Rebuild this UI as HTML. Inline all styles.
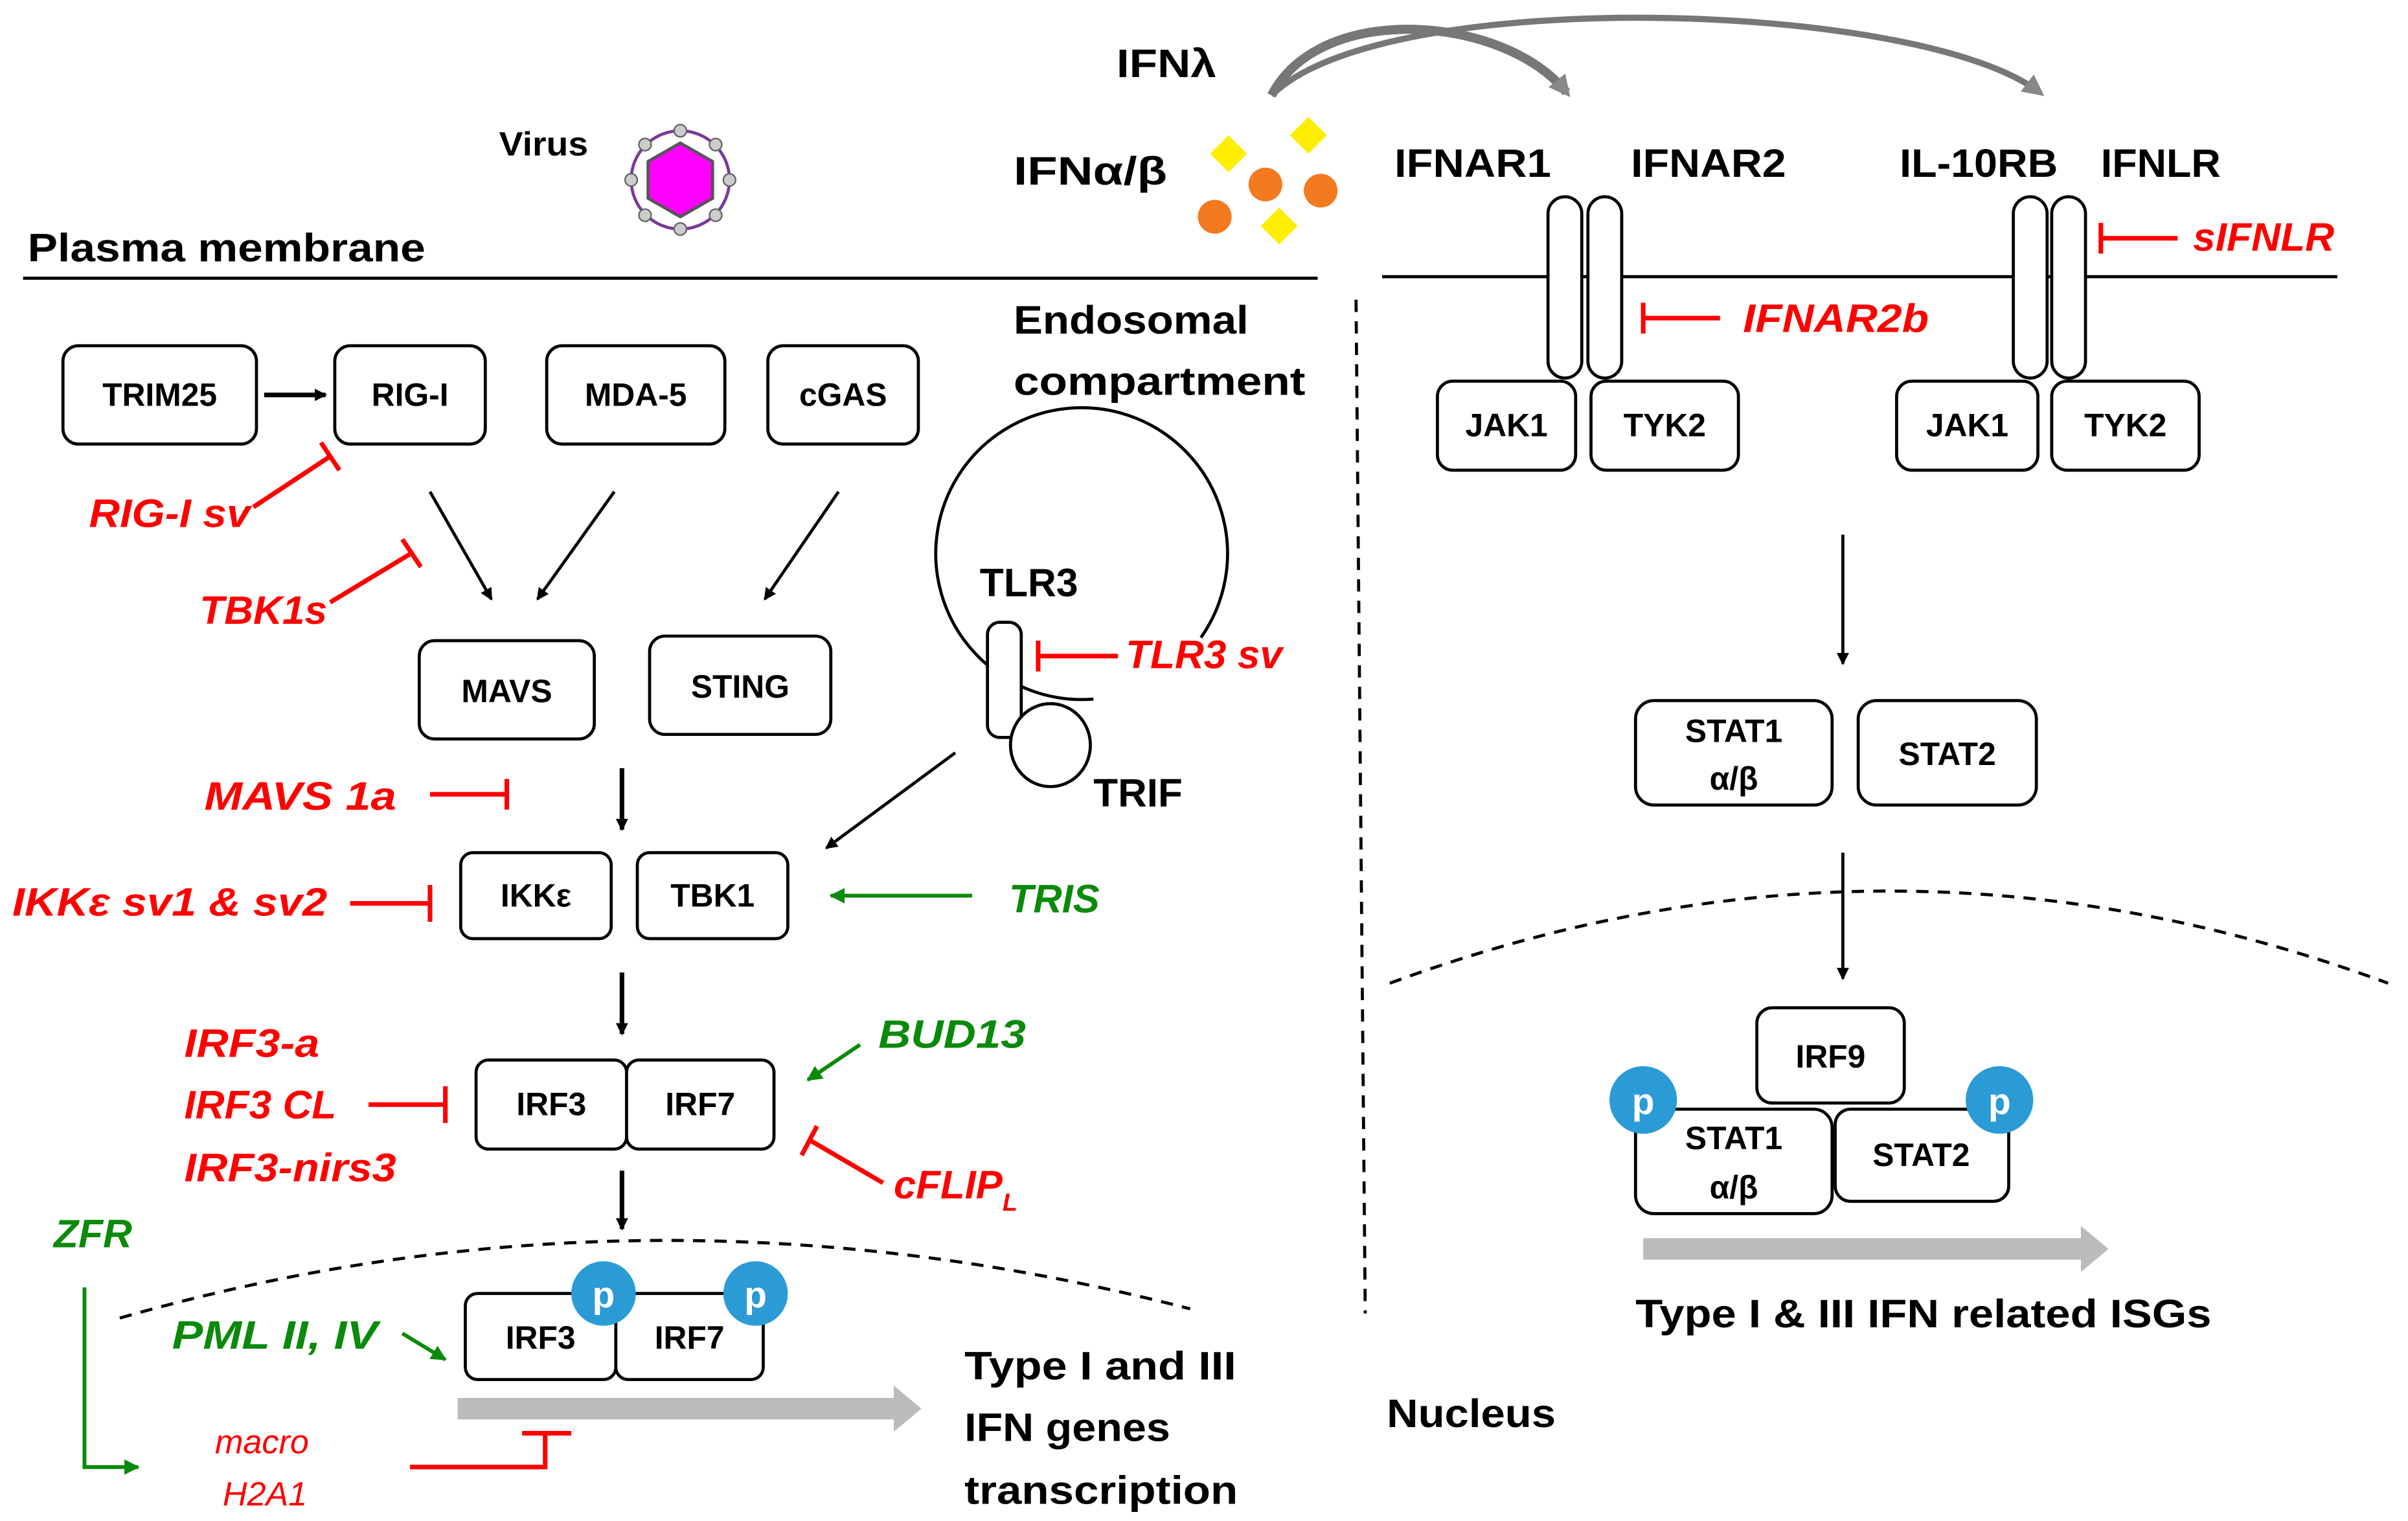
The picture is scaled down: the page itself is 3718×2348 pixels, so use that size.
<!DOCTYPE html>
<html><head><meta charset="utf-8"><style>html,body{margin:0;padding:0;background:#fff}svg{display:block}</style></head><body>
<svg width="3718" height="2348" viewBox="0 0 1568 990" xmlns="http://www.w3.org/2000/svg" font-family="Liberation Sans, DejaVu Sans, sans-serif">
<defs>
<marker id="ab" markerWidth="8" markerHeight="8" refX="7" refY="4" orient="auto" markerUnits="userSpaceOnUse"><path d="M0,0 L8,4 L0,8 Z" fill="#000"/></marker>
<marker id="ag" markerWidth="10" markerHeight="10" refX="9" refY="5" orient="auto" markerUnits="userSpaceOnUse"><path d="M0,0 L10,5 L0,10 Z" fill="#0a8a0a"/></marker>
<marker id="agr" markerWidth="14" markerHeight="14" refX="10" refY="7" orient="auto" markerUnits="userSpaceOnUse"><path d="M0,0 L14,7 L0,14 Z" fill="#888"/></marker>
</defs>
<style>
.b{fill:#fff;stroke:#000;stroke-width:2}
.t{font-size:21px;fill:#000;text-anchor:middle;font-weight:bold}
.L{font-size:26px;font-weight:bold;fill:#000}
.r{font-size:26px;font-weight:bold;font-style:italic;fill:#f00}
.g{font-size:26px;font-weight:bold;font-style:italic;fill:#0a8a0a}
.rl{stroke:#f00;stroke-width:3;fill:none}
.gl{stroke:#0a8a0a;stroke-width:2.5;fill:none}
.k{stroke:#000;stroke-width:2;fill:none}
</style>
<!-- top -->
<text x="727" y="50" class="L" textLength="65" lengthAdjust="spacingAndGlyphs">IFNλ</text>
<path d="M828,62 C860,0 980,10 1020,60" stroke="#777" stroke-width="6" fill="none" marker-end="url(#agr)"/>
<path d="M828,62 C900,-10 1250,0 1328,60" stroke="#777" stroke-width="4" fill="none" marker-end="url(#agr)"/>
<text x="325" y="101" font-size="22" font-weight="bold" textLength="58" lengthAdjust="spacingAndGlyphs">Virus</text>
<circle cx="443" cy="117" r="32" fill="none" stroke="#7a3a9a" stroke-width="2"/>
<polygon points="443,93 464,105 464,129 443,141 422,129 422,105" fill="#f0f" stroke="#555" stroke-width="2"/>
<g fill="#ccc" stroke="#666"><circle cx="443" cy="85" r="4"/><circle cx="443" cy="149" r="4"/><circle cx="411" cy="117" r="4"/><circle cx="475" cy="117" r="4"/><circle cx="420" cy="94" r="4"/><circle cx="466" cy="94" r="4"/><circle cx="420" cy="140" r="4"/><circle cx="466" cy="140" r="4"/></g>
<text x="660" y="120" class="L" textLength="100" lengthAdjust="spacingAndGlyphs">IFNα/β</text>
<g fill="#ffee00"><polygon points="800,88 812,100 800,112 788,100"/><polygon points="852,76 864,88 852,100 840,88"/><polygon points="833,135 845,147 833,159 821,147"/></g>
<g fill="#f47a20"><circle cx="791" cy="141" r="11"/><circle cx="824" cy="120" r="11"/><circle cx="860" cy="124" r="11"/></g>
<text x="18" y="170" class="L" textLength="259" lengthAdjust="spacingAndGlyphs">Plasma membrane</text>
<line x1="15" y1="181" x2="858" y2="181" class="k"/>
<line x1="900" y1="180" x2="1522" y2="180" class="k"/>
<line x1="883" y1="195" x2="889" y2="855" stroke="#000" stroke-width="2" stroke-dasharray="8,6"/>
<!-- right -->
<text x="908" y="115" class="L" textLength="102" lengthAdjust="spacingAndGlyphs">IFNAR1</text><text x="1062" y="115" class="L" textLength="101" lengthAdjust="spacingAndGlyphs">IFNAR2</text>
<text x="1237" y="115" class="L" textLength="103" lengthAdjust="spacingAndGlyphs">IL-10RB</text><text x="1368" y="115" class="L" textLength="78" lengthAdjust="spacingAndGlyphs">IFNLR</text>
<rect x="1008" y="128" width="22" height="118" rx="11" class="b"/><rect x="1034" y="128" width="22" height="118" rx="11" class="b"/>
<rect x="1311" y="128" width="22" height="118" rx="11" class="b"/><rect x="1336" y="128" width="22" height="118" rx="11" class="b"/>
<path d="M1418,155 H1368 M1368,145 V165" class="rl"/><text x="1428" y="163" class="r" textLength="92" lengthAdjust="spacingAndGlyphs">sIFNLR</text>
<path d="M1120,207 H1070 M1070,197 V217" class="rl"/><text x="1135" y="216" class="r" textLength="121" lengthAdjust="spacingAndGlyphs">IFNAR2b</text>
<rect x="936" y="248" width="90" height="58" rx="10" class="b"/><text x="981" y="284" class="t">JAK1</text>
<rect x="1036" y="248" width="96" height="58" rx="10" class="b"/><text x="1084" y="284" class="t">TYK2</text>
<rect x="1235" y="248" width="92" height="58" rx="10" class="b"/><text x="1281" y="284" class="t">JAK1</text>
<rect x="1336" y="248" width="96" height="58" rx="10" class="b"/><text x="1384" y="284" class="t">TYK2</text>
<line x1="1200" y1="348" x2="1200" y2="432" class="k" marker-end="url(#ab)"/>
<rect x="1065" y="456" width="128" height="68" rx="12" class="b"/><text x="1129" y="483" class="t">STAT1</text><text x="1129" y="514" class="t">α/β</text>
<rect x="1210" y="456" width="116" height="68" rx="12" class="b"/><text x="1268" y="498" class="t">STAT2</text>
<line x1="1200" y1="555" x2="1200" y2="637" class="k" marker-end="url(#ab)"/>
<path d="M905,640 Q1230,520 1555,640" stroke="#000" stroke-width="2" stroke-dasharray="8,6" fill="none"/>
<rect x="1144" y="656" width="96" height="62" rx="10" class="b"/><text x="1192" y="695" class="t">IRF9</text>
<rect x="1065" y="722" width="128" height="68" rx="12" class="b"/><text x="1129" y="748" class="t">STAT1</text><text x="1129" y="780" class="t">α/β</text>
<rect x="1195" y="722" width="113" height="60" rx="10" class="b"/><text x="1251" y="759" class="t">STAT2</text>
<circle cx="1070" cy="716" r="22" fill="#2b9bd6"/><text x="1070" y="725" font-size="24" font-weight="bold" fill="#fff" text-anchor="middle">p</text>
<circle cx="1302" cy="716" r="22" fill="#2b9bd6"/><text x="1302" y="725" font-size="24" font-weight="bold" fill="#fff" text-anchor="middle">p</text>
<line x1="1070" y1="813" x2="1355" y2="813" stroke="#bbb" stroke-width="14"/><polygon points="1355,798 1373,813 1355,828" fill="#bbb"/>
<text x="1065" y="864" class="L" textLength="375" lengthAdjust="spacingAndGlyphs">Type I &amp; III IFN related ISGs</text>
<text x="903" y="929" class="L" textLength="110" lengthAdjust="spacingAndGlyphs">Nucleus</text>
<!-- left -->
<rect x="41" y="225" width="126" height="64" rx="10" class="b"/><text x="104" y="264" class="t">TRIM25</text>
<line x1="172" y1="257" x2="212" y2="257" stroke="#000" stroke-width="3" marker-end="url(#ab)"/>
<rect x="218" y="225" width="98" height="64" rx="10" class="b"/><text x="267" y="264" class="t">RIG-I</text>
<rect x="356" y="225" width="116" height="64" rx="10" class="b"/><text x="414" y="264" class="t">MDA-5</text>
<rect x="500" y="225" width="98" height="64" rx="10" class="b"/><text x="549" y="264" class="t">cGAS</text>
<text x="660" y="217" class="L" textLength="153" lengthAdjust="spacingAndGlyphs">Endosomal</text><text x="660" y="257" class="L" textLength="190" lengthAdjust="spacingAndGlyphs">compartment</text>
<path d="M712,455 A95,95 0 1 1 782,415" stroke="#000" stroke-width="2" fill="none"/>
<text x="638" y="388" class="L" textLength="64" lengthAdjust="spacingAndGlyphs">TLR3</text>
<rect x="643" y="405" width="22" height="75" rx="8" class="b"/>
<ellipse cx="684" cy="485" rx="26" ry="27" class="b"/>
<text x="712" y="525" class="L" textLength="58" lengthAdjust="spacingAndGlyphs">TRIF</text>
<path d="M728,427 H676 M676,417 V437" class="rl"/><text x="733" y="435" class="r" textLength="102" lengthAdjust="spacingAndGlyphs">TLR3 sv</text>
<text x="58" y="343" class="r" textLength="105" lengthAdjust="spacingAndGlyphs">RIG-I sv</text><path d="M165,330 L215,297 M209,288 L221,306" class="rl"/>
<text x="130" y="406" class="r" textLength="83" lengthAdjust="spacingAndGlyphs">TBK1s</text><path d="M215,392 L268,360 M262,351 L274,369" class="rl"/>
<line x1="280" y1="320" x2="320" y2="390" class="k" marker-end="url(#ab)"/>
<line x1="400" y1="320" x2="350" y2="390" class="k" marker-end="url(#ab)"/>
<line x1="546" y1="320" x2="498" y2="390" class="k" marker-end="url(#ab)"/>
<rect x="273" y="417" width="114" height="64" rx="10" class="b"/><text x="330" y="457" class="t">MAVS</text>
<rect x="423" y="414" width="118" height="64" rx="10" class="b"/><text x="482" y="454" class="t">STING</text>
<line x1="405" y1="500" x2="405" y2="540" stroke="#000" stroke-width="3" marker-end="url(#ab)"/>
<text x="133" y="527" class="r" textLength="125" lengthAdjust="spacingAndGlyphs">MAVS 1a</text><path d="M280,517 H330 M330,507 V527" class="rl"/>
<rect x="300" y="555" width="98" height="56" rx="8" class="b"/><text x="349" y="590" class="t">IKKε</text>
<rect x="415" y="555" width="98" height="56" rx="8" class="b"/><text x="464" y="590" class="t">TBK1</text>
<line x1="622" y1="490" x2="538" y2="552" class="k" marker-end="url(#ab)"/>
<text x="657" y="594" class="g" textLength="59" lengthAdjust="spacingAndGlyphs">TRIS</text><line x1="633" y1="583" x2="541" y2="583" class="gl" marker-end="url(#ag)"/>
<text x="8" y="596" class="r" textLength="205" lengthAdjust="spacingAndGlyphs">IKKε sv1 &amp; sv2</text><path d="M228,588 H280 M280,576 V600" class="rl"/>
<line x1="405" y1="633" x2="405" y2="673" stroke="#000" stroke-width="3" marker-end="url(#ab)"/>
<rect x="310" y="690" width="98" height="58" rx="8" class="b"/><text x="359" y="726" class="t">IRF3</text>
<rect x="408" y="690" width="96" height="58" rx="8" class="b"/><text x="456" y="726" class="t">IRF7</text>
<text x="120" y="688" class="r" textLength="88" lengthAdjust="spacingAndGlyphs">IRF3-a</text><text x="120" y="728" class="r" textLength="99" lengthAdjust="spacingAndGlyphs">IRF3 CL</text><text x="120" y="769" class="r" textLength="138" lengthAdjust="spacingAndGlyphs">IRF3-nirs3</text>
<path d="M240,719 H290 M290,707 V731" class="rl"/>
<text x="572" y="682" class="g" textLength="96" lengthAdjust="spacingAndGlyphs">BUD13</text><line x1="560" y1="680" x2="526" y2="703" class="gl" marker-end="url(#ag)"/>
<text x="582" y="780" class="r">cFLIP<tspan font-size="16" dy="8">L</tspan></text>
<path d="M575,770 L527,742 M522,752 L532,733" class="rl"/>
<line x1="405" y1="762" x2="405" y2="800" stroke="#000" stroke-width="3" marker-end="url(#ab)"/>
<text x="35" y="812" class="g" textLength="51" lengthAdjust="spacingAndGlyphs">ZFR</text>
<path d="M55,838 V955 H90" class="gl" marker-end="url(#ag)"/>
<path d="M78,858 Q420,760 775,852" stroke="#000" stroke-width="2" stroke-dasharray="8,6" fill="none"/>
<rect x="303" y="842" width="98" height="56" rx="8" class="b"/><text x="352" y="878" class="t">IRF3</text>
<rect x="401" y="842" width="96" height="56" rx="8" class="b"/><text x="449" y="878" class="t">IRF7</text>
<circle cx="393" cy="842" r="21" fill="#2b9bd6"/><text x="393" y="851" font-size="24" font-weight="bold" fill="#fff" text-anchor="middle">p</text>
<circle cx="492" cy="842" r="21" fill="#2b9bd6"/><text x="492" y="851" font-size="24" font-weight="bold" fill="#fff" text-anchor="middle">p</text>
<text x="112" y="878" class="g" textLength="134" lengthAdjust="spacingAndGlyphs">PML II, IV</text><line x1="262" y1="868" x2="290" y2="885" class="gl" marker-end="url(#ag)"/>
<line x1="298" y1="917" x2="582" y2="917" stroke="#bbb" stroke-width="14"/><polygon points="582,902 600,917 582,932" fill="#bbb"/>
<text x="628" y="898" class="L" textLength="177" lengthAdjust="spacingAndGlyphs">Type I and III</text><text x="628" y="938" class="L" textLength="134" lengthAdjust="spacingAndGlyphs">IFN genes</text><text x="628" y="979" class="L" textLength="178" lengthAdjust="spacingAndGlyphs">transcription</text>
<text x="140" y="946" font-size="22" font-style="italic" fill="#f00">macro</text><text x="145" y="980" font-size="22" font-style="italic" fill="#f00">H2A1</text>
<path d="M267,955 H355 V933 M340,933 H372" class="rl"/>
</svg>
</body></html>
